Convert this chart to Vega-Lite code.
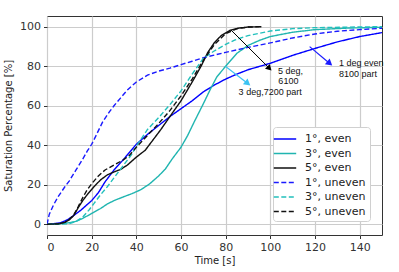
{
  "$schema": "https://vega.github.io/schema/vega-lite/v6.json",
  "autosize": {"type": "none"},
  "padding": {"left": 47, "top": 16, "right": 17, "bottom": 37},
  "width": 335,
  "height": 219,
  "background": "white",
  "config": {
    "view": {"stroke": "#333", "strokeWidth": 1},
    "font": "DejaVu Sans"
  },
  "datasets": {
    "curves": [
      {"s": "1°, even", "t": 0, "v": 0}, {"s": "1°, even", "t": 3, "v": 0.3}, {"s": "1°, even", "t": 6, "v": 0.8}, {"s": "1°, even", "t": 9, "v": 2.2}, {"s": "1°, even", "t": 12, "v": 4.5}, {"s": "1°, even", "t": 15, "v": 7}, {"s": "1°, even", "t": 18, "v": 10}, {"s": "1°, even", "t": 20, "v": 12}, {"s": "1°, even", "t": 23, "v": 16}, {"s": "1°, even", "t": 26, "v": 21.5}, {"s": "1°, even", "t": 30, "v": 27.5}, {"s": "1°, even", "t": 34, "v": 32.5}, {"s": "1°, even", "t": 37, "v": 36.5}, {"s": "1°, even", "t": 40, "v": 40.5}, {"s": "1°, even", "t": 45, "v": 45.5}, {"s": "1°, even", "t": 50, "v": 50}, {"s": "1°, even", "t": 55, "v": 54.5}, {"s": "1°, even", "t": 60, "v": 58.5}, {"s": "1°, even", "t": 65, "v": 62.5}, {"s": "1°, even", "t": 70, "v": 67}, {"s": "1°, even", "t": 75, "v": 70.5}, {"s": "1°, even", "t": 80, "v": 73.5}, {"s": "1°, even", "t": 85, "v": 76}, {"s": "1°, even", "t": 90, "v": 78.2}, {"s": "1°, even", "t": 100, "v": 81.5}, {"s": "1°, even", "t": 110, "v": 85.5}, {"s": "1°, even", "t": 120, "v": 89}, {"s": "1°, even", "t": 130, "v": 92.3}, {"s": "1°, even", "t": 140, "v": 95}, {"s": "1°, even", "t": 150, "v": 97},
      {"s": "3°, even", "t": 0, "v": 0}, {"s": "3°, even", "t": 5, "v": 0.2}, {"s": "3°, even", "t": 10, "v": 0.8}, {"s": "3°, even", "t": 13, "v": 1.5}, {"s": "3°, even", "t": 16, "v": 3}, {"s": "3°, even", "t": 20, "v": 5.5}, {"s": "3°, even", "t": 24, "v": 8}, {"s": "3°, even", "t": 27, "v": 10.3}, {"s": "3°, even", "t": 30, "v": 12}, {"s": "3°, even", "t": 34, "v": 13.8}, {"s": "3°, even", "t": 38, "v": 15.5}, {"s": "3°, even", "t": 42, "v": 17.5}, {"s": "3°, even", "t": 46, "v": 20.5}, {"s": "3°, even", "t": 50, "v": 24.5}, {"s": "3°, even", "t": 53, "v": 28}, {"s": "3°, even", "t": 56, "v": 33}, {"s": "3°, even", "t": 60, "v": 39}, {"s": "3°, even", "t": 63, "v": 45}, {"s": "3°, even", "t": 66, "v": 52}, {"s": "3°, even", "t": 70, "v": 61}, {"s": "3°, even", "t": 73, "v": 68}, {"s": "3°, even", "t": 76, "v": 74.5}, {"s": "3°, even", "t": 80, "v": 80}, {"s": "3°, even", "t": 85, "v": 86.5}, {"s": "3°, even", "t": 90, "v": 90.5}, {"s": "3°, even", "t": 95, "v": 93}, {"s": "3°, even", "t": 100, "v": 95}, {"s": "3°, even", "t": 110, "v": 97.2}, {"s": "3°, even", "t": 120, "v": 98.5}, {"s": "3°, even", "t": 135, "v": 99.3}, {"s": "3°, even", "t": 150, "v": 99.7},
      {"s": "5°, even", "t": 0, "v": 0}, {"s": "5°, even", "t": 5, "v": 0.2}, {"s": "5°, even", "t": 8, "v": 1}, {"s": "5°, even", "t": 10, "v": 2.3}, {"s": "5°, even", "t": 12, "v": 4.5}, {"s": "5°, even", "t": 14, "v": 8.5}, {"s": "5°, even", "t": 16, "v": 12}, {"s": "5°, even", "t": 18, "v": 15}, {"s": "5°, even", "t": 21, "v": 19}, {"s": "5°, even", "t": 24, "v": 22.5}, {"s": "5°, even", "t": 27, "v": 25}, {"s": "5°, even", "t": 30, "v": 26.5}, {"s": "5°, even", "t": 33, "v": 27.8}, {"s": "5°, even", "t": 36, "v": 30}, {"s": "5°, even", "t": 40, "v": 34}, {"s": "5°, even", "t": 44, "v": 37.5}, {"s": "5°, even", "t": 48, "v": 43.5}, {"s": "5°, even", "t": 51, "v": 48}, {"s": "5°, even", "t": 55, "v": 54.5}, {"s": "5°, even", "t": 60, "v": 62.5}, {"s": "5°, even", "t": 65, "v": 72}, {"s": "5°, even", "t": 69, "v": 80}, {"s": "5°, even", "t": 72, "v": 87}, {"s": "5°, even", "t": 75, "v": 92}, {"s": "5°, even", "t": 78, "v": 95.5}, {"s": "5°, even", "t": 82, "v": 98.2}, {"s": "5°, even", "t": 86, "v": 99.3}, {"s": "5°, even", "t": 90, "v": 99.8}, {"s": "5°, even", "t": 96, "v": 100},
      {"s": "1°, uneven", "t": 0, "v": 0}, {"s": "1°, uneven", "t": 1, "v": 5}, {"s": "1°, uneven", "t": 3, "v": 10}, {"s": "1°, uneven", "t": 5, "v": 14}, {"s": "1°, uneven", "t": 8, "v": 19}, {"s": "1°, uneven", "t": 10, "v": 22}, {"s": "1°, uneven", "t": 13, "v": 27.5}, {"s": "1°, uneven", "t": 16, "v": 33}, {"s": "1°, uneven", "t": 18, "v": 37}, {"s": "1°, uneven", "t": 20, "v": 40.5}, {"s": "1°, uneven", "t": 22, "v": 45}, {"s": "1°, uneven", "t": 25, "v": 52}, {"s": "1°, uneven", "t": 28, "v": 57}, {"s": "1°, uneven", "t": 30, "v": 60}, {"s": "1°, uneven", "t": 33, "v": 64}, {"s": "1°, uneven", "t": 36, "v": 68}, {"s": "1°, uneven", "t": 40, "v": 72}, {"s": "1°, uneven", "t": 45, "v": 75.5}, {"s": "1°, uneven", "t": 50, "v": 77.5}, {"s": "1°, uneven", "t": 55, "v": 79}, {"s": "1°, uneven", "t": 60, "v": 80.8}, {"s": "1°, uneven", "t": 65, "v": 82.5}, {"s": "1°, uneven", "t": 70, "v": 84.3}, {"s": "1°, uneven", "t": 80, "v": 87}, {"s": "1°, uneven", "t": 90, "v": 89.5}, {"s": "1°, uneven", "t": 100, "v": 91.8}, {"s": "1°, uneven", "t": 110, "v": 94.3}, {"s": "1°, uneven", "t": 120, "v": 96.3}, {"s": "1°, uneven", "t": 130, "v": 97.7}, {"s": "1°, uneven", "t": 140, "v": 98.5}, {"s": "1°, uneven", "t": 150, "v": 99.2},
      {"s": "3°, uneven", "t": 0, "v": 0}, {"s": "3°, uneven", "t": 5, "v": 0}, {"s": "3°, uneven", "t": 10, "v": 0.3}, {"s": "3°, uneven", "t": 13, "v": 1.5}, {"s": "3°, uneven", "t": 16, "v": 3.7}, {"s": "3°, uneven", "t": 19, "v": 7.5}, {"s": "3°, uneven", "t": 21, "v": 10.5}, {"s": "3°, uneven", "t": 24, "v": 15}, {"s": "3°, uneven", "t": 27, "v": 19}, {"s": "3°, uneven", "t": 30, "v": 23.5}, {"s": "3°, uneven", "t": 33, "v": 28}, {"s": "3°, uneven", "t": 36, "v": 32.5}, {"s": "3°, uneven", "t": 38, "v": 35.5}, {"s": "3°, uneven", "t": 40, "v": 39.5}, {"s": "3°, uneven", "t": 45, "v": 48}, {"s": "3°, uneven", "t": 50, "v": 54}, {"s": "3°, uneven", "t": 55, "v": 60.5}, {"s": "3°, uneven", "t": 60, "v": 67.5}, {"s": "3°, uneven", "t": 65, "v": 76}, {"s": "3°, uneven", "t": 70, "v": 84}, {"s": "3°, uneven", "t": 75, "v": 87.8}, {"s": "3°, uneven", "t": 80, "v": 91}, {"s": "3°, uneven", "t": 84, "v": 93.2}, {"s": "3°, uneven", "t": 90, "v": 95.5}, {"s": "3°, uneven", "t": 100, "v": 97.8}, {"s": "3°, uneven", "t": 110, "v": 99}, {"s": "3°, uneven", "t": 120, "v": 99.5}, {"s": "3°, uneven", "t": 150, "v": 100},
      {"s": "5°, uneven", "t": 0, "v": 0}, {"s": "5°, uneven", "t": 5, "v": 0.2}, {"s": "5°, uneven", "t": 8, "v": 1}, {"s": "5°, uneven", "t": 10, "v": 2.5}, {"s": "5°, uneven", "t": 12, "v": 4.8}, {"s": "5°, uneven", "t": 14, "v": 9}, {"s": "5°, uneven", "t": 16, "v": 13.5}, {"s": "5°, uneven", "t": 18, "v": 17.5}, {"s": "5°, uneven", "t": 20, "v": 20.5}, {"s": "5°, uneven", "t": 23, "v": 24.5}, {"s": "5°, uneven", "t": 26, "v": 27.5}, {"s": "5°, uneven", "t": 30, "v": 30}, {"s": "5°, uneven", "t": 34, "v": 32.5}, {"s": "5°, uneven", "t": 37, "v": 35}, {"s": "5°, uneven", "t": 40, "v": 39}, {"s": "5°, uneven", "t": 45, "v": 45}, {"s": "5°, uneven", "t": 50, "v": 51}, {"s": "5°, uneven", "t": 55, "v": 57.5}, {"s": "5°, uneven", "t": 60, "v": 65}, {"s": "5°, uneven", "t": 65, "v": 73.5}, {"s": "5°, uneven", "t": 70, "v": 83}, {"s": "5°, uneven", "t": 75, "v": 91}, {"s": "5°, uneven", "t": 80, "v": 96.5}, {"s": "5°, uneven", "t": 85, "v": 99}, {"s": "5°, uneven", "t": 90, "v": 99.8}, {"s": "5°, uneven", "t": 95, "v": 100}
    ],
    "arrows": [
      {"id": "k", "x": 82.4, "y": 98.3, "x2": 99.6, "y2": 78.9},
      {"id": "c", "x": 80, "y": 79.8, "x2": 89.9, "y2": 71.3},
      {"id": "b", "x": 117.6, "y": 89.9, "x2": 126.6, "y2": 81.4}
    ],
    "notes": [
      {"label": "5 deg,", "x": 103.4, "y": 77.6},
      {"label": "6100", "x": 103.6, "y": 72.4},
      {"label": "3 deg,7200 part", "x": 85.8, "y": 67.2},
      {"label": "1 deg even", "x": 130.7, "y": 81.8},
      {"label": "8100 part", "x": 130.7, "y": 76.2}
    ]
  },
  "layer": [
    {
      "data": {"name": "curves"},
      "mark": {"type": "line", "strokeWidth": 1.4, "clip": true},
      "encoding": {
        "x": {
          "field": "t", "type": "quantitative",
          "scale": {"domain": [0, 150], "nice": false, "zero": false},
          "axis": {
            "title": "Time [s]", "values": [0, 20, 40, 60, 80, 100, 120, 140],
            "grid": true, "gridColor": "#cccccc", "gridWidth": 1.2,
            "domain": false, "tickColor": "#333", "tickSize": 3.5,
            "labelFontSize": 11, "labelColor": "#333", "labelPadding": 3,
            "titleFontSize": 10, "titleFontWeight": "normal", "titleColor": "#222", "titlePadding": 3
          }
        },
        "y": {
          "field": "v", "type": "quantitative",
          "scale": {"domain": [-5.4, 105.4], "nice": false, "zero": false},
          "axis": {
            "title": "Saturation Percentage [%]", "values": [0, 20, 40, 60, 80, 100],
            "grid": true, "gridColor": "#cccccc", "gridWidth": 1.2,
            "domain": false, "tickColor": "#333", "tickSize": 3.5,
            "labelFontSize": 11, "labelColor": "#333", "labelPadding": 3,
            "titleFontSize": 10, "titleFontWeight": "normal", "titleColor": "#222", "titlePadding": 6
          }
        },
        "color": {
          "field": "s", "type": "nominal",
          "scale": {
            "domain": ["1°, even", "3°, even", "5°, even", "1°, uneven", "3°, uneven", "5°, uneven"],
            "range": ["#0000ff", "#20b5b0", "#111111", "#1a1aff", "#22c0bc", "#111111"]
          },
          "legend": {
            "title": null, "orient": "none", "legendX": 226, "legendY": 111,
            "symbolType": "M-1.6,0H1.6", "symbolSize": 196, "symbolStrokeWidth": 1.4,
            "labelFontSize": 11, "labelColor": "#222", "labelOffset": 12,
            "rowPadding": 1.5, "padding": 4, "fillColor": "white",
            "strokeColor": "#d0d0d0", "cornerRadius": 3
          }
        },
        "strokeDash": {
          "field": "s", "type": "nominal",
          "scale": {
            "domain": ["1°, even", "3°, even", "5°, even", "1°, uneven", "3°, uneven", "5°, uneven"],
            "range": [[1, 0], [1, 0], [1, 0], [5, 2.5], [5, 2.5], [5, 2.5]]
          },
          "legend": {
            "title": null, "orient": "none", "legendX": 226, "legendY": 111,
            "symbolType": "M-1.6,0H1.6", "symbolSize": 196, "symbolStrokeWidth": 1.4,
            "labelFontSize": 11, "labelColor": "#222", "labelOffset": 12,
            "rowPadding": 1.5, "padding": 4, "fillColor": "white",
            "strokeColor": "#d0d0d0", "cornerRadius": 3
          }
        }
      }
    },
    {
      "data": {"name": "arrows"},
      "transform": [{"filter": "datum.id === 'k'"}],
      "mark": {"type": "rule", "color": "#000000", "strokeWidth": 1},
      "encoding": {"x": {"field": "x", "type": "quantitative"}, "y": {"field": "y", "type": "quantitative"}, "x2": {"field": "x2"}, "y2": {"field": "y2"}}
    },
    {
      "data": {"name": "arrows"},
      "transform": [{"filter": "datum.id === 'k'"}],
      "mark": {"type": "point", "shape": "triangle-up", "filled": true, "color": "#000000", "size": 45, "angle": 135, "opacity": 1},
      "encoding": {"x": {"field": "x2", "type": "quantitative"}, "y": {"field": "y2", "type": "quantitative"}}
    },
    {
      "data": {"name": "arrows"},
      "transform": [{"filter": "datum.id === 'c'"}],
      "mark": {"type": "rule", "color": "#3cc3f2", "strokeWidth": 1.2},
      "encoding": {"x": {"field": "x", "type": "quantitative"}, "y": {"field": "y", "type": "quantitative"}, "x2": {"field": "x2"}, "y2": {"field": "y2"}}
    },
    {
      "data": {"name": "arrows"},
      "transform": [{"filter": "datum.id === 'c'"}],
      "mark": {"type": "point", "shape": "triangle-up", "filled": true, "color": "#3cc3f2", "size": 55, "angle": 128, "opacity": 1},
      "encoding": {"x": {"field": "x2", "type": "quantitative"}, "y": {"field": "y2", "type": "quantitative"}}
    },
    {
      "data": {"name": "arrows"},
      "transform": [{"filter": "datum.id === 'b'"}],
      "mark": {"type": "rule", "color": "#1a1aff", "strokeWidth": 1.2},
      "encoding": {"x": {"field": "x", "type": "quantitative"}, "y": {"field": "y", "type": "quantitative"}, "x2": {"field": "x2"}, "y2": {"field": "y2"}}
    },
    {
      "data": {"name": "arrows"},
      "transform": [{"filter": "datum.id === 'b'"}],
      "mark": {"type": "point", "shape": "triangle-up", "filled": true, "color": "#1a1aff", "size": 55, "angle": 130, "opacity": 1},
      "encoding": {"x": {"field": "x2", "type": "quantitative"}, "y": {"field": "y2", "type": "quantitative"}}
    },
    {
      "data": {"name": "notes"},
      "mark": {"type": "text", "align": "left", "baseline": "middle", "font": "Liberation Sans", "fontSize": 9, "color": "#111"},
      "encoding": {"x": {"field": "x", "type": "quantitative"}, "y": {"field": "y", "type": "quantitative"}, "text": {"field": "label"}}
    }
  ]
}
